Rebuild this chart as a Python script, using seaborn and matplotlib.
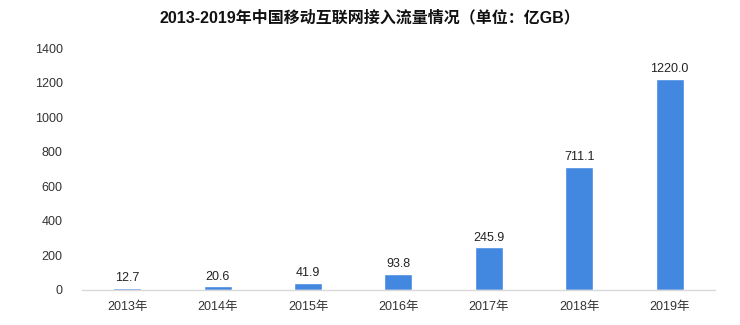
import matplotlib
matplotlib.use("Agg")
import matplotlib.pyplot as plt
import seaborn as sns
import pandas as pd

years = ["2013年", "2014年", "2015年", "2016年", "2017年", "2018年", "2019年"]
values = [12.7, 20.6, 41.9, 93.8, 245.9, 711.1, 1220.0]
yticks = [0, 200, 400, 600, 800, 1000, 1200, 1400]
title = "2013-2019年中国移动互联网接入流量情况（单位：亿GB）"

sns.set_theme(style="white")
plt.rcParams['font.family'] = ['Liberation Sans', 'Noto Sans CJK SC', 'DejaVu Sans']

df = pd.DataFrame({"year": years, "value": values})

fig = plt.figure(figsize=(7.4, 3.25), dpi=100)
ax = fig.add_axes([0.111, 0.108, 0.855, 0.744])
sns.barplot(data=df, x="year", y="value", color="#4287E0", width=0.31,
            saturation=1, ax=ax)
ax.set_xlim(-0.5, 6.5)
ax.set_ylim(0, 1400)
ax.set_yticks(yticks)
ax.set_yticklabels([str(t) for t in yticks])
ax.set_xlabel("")
ax.set_ylabel("")
for s in ["top", "right", "left"]:
    ax.spines[s].set_visible(False)
ax.spines["bottom"].set_color("#D9D9D9")
ax.spines["bottom"].set_linewidth(1)
ax.tick_params(axis="both", length=0, labelsize=9, colors="#333333")
ax.tick_params(axis="x", pad=8)
ax.tick_params(axis="y", pad=14)
for i, v in enumerate(values):
    ax.text(i, v + 22, f"{v:.1f}", ha="center", va="bottom", fontsize=9, color="#222222")
fig.text(0.5, 0.945, title, ha="center", va="center", fontsize=11.5, fontweight="bold",
         color="#111111")
fig.savefig("out.png", dpi=100)
